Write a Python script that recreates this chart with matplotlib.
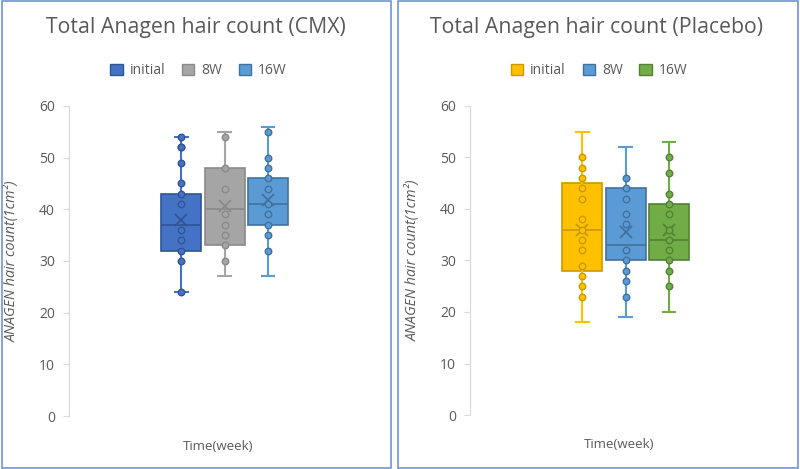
import matplotlib.pyplot as plt
from matplotlib.patches import Rectangle, Patch

groups = ['initial', '8W', '16W']

# box statistics (CMX)
cmx_q1 = [32, 33, 37]
cmx_med = [37, 40, 41]
cmx_q3 = [43, 48, 46]
cmx_mean = [38, 40.6, 41.8]
cmx_lo = [24, 27, 27]
cmx_hi = [54, 55, 56]
cmx_points = [
    [54, 52, 52, 49, 45, 43, 41, 36, 34, 32, 30, 24],
    [54, 48, 44, 39, 37, 35, 33, 30],
    [55, 50, 48, 46, 44, 41, 39, 37, 35, 32],
]

# box statistics (Placebo)
plc_q1 = [28, 30, 30]
plc_med = [36, 33, 34]
plc_q3 = [45, 44, 41]
plc_mean = [36, 35.5, 36]
plc_lo = [18, 19, 20]
plc_hi = [55, 52, 53]
plc_points = [
    [50, 48, 46, 44, 42, 38, 36, 34, 32, 29, 27, 25, 23],
    [46, 44, 42, 39, 37, 32, 30, 28, 26, 23],
    [50, 47, 43, 41, 39, 36, 34, 32, 30, 28, 25],
]

cmx_colors = ['#4472C4', '#A5A5A5', '#5B9BD5']
cmx_edges = ['#2F5597', '#8A8A8A', '#41719C']
plc_colors = ['#FFC000', '#5B9BD5', '#70AD47']
plc_edges = ['#C99A00', '#41719C', '#538135']

text_color = '#595959'
positions = [-1.03, 0, 1.03]


def draw_panel(fig, ax, title, title_x, q1, med, q3, mean, lo, hi, points, colors, edges):
    handles = []
    for i in range(3):
        stats = [dict(med=med[i], q1=q1[i], q3=q3[i], mean=mean[i],
                      whislo=lo[i], whishi=hi[i], fliers=[])]
        ax.bxp(stats, positions=[positions[i]], widths=0.95, patch_artist=True,
               showmeans=True, showfliers=False,
               boxprops=dict(facecolor=colors[i], edgecolor=edges[i], linewidth=1.2),
               medianprops=dict(color=edges[i], linewidth=1.2),
               whiskerprops=dict(color=colors[i], linewidth=1.5),
               capprops=dict(color=colors[i], linewidth=1.5),
               capwidths=0.3,
               meanprops=dict(marker='x', markeredgecolor=edges[i],
                              markersize=9, markeredgewidth=1.3))
        ax.scatter([positions[i]] * len(points[i]), points[i], s=22,
                   facecolor=colors[i], edgecolor=edges[i], linewidth=1, zorder=4)
        handles.append(Patch(facecolor=colors[i], edgecolor=edges[i], label=groups[i]))

    ax.set_xlim(-3.7, 3.7)
    ax.set_ylim(0, 60)
    ax.set_yticks(range(0, 61, 10))
    ax.set_xticks([])
    for side in ['top', 'right', 'bottom']:
        ax.spines[side].set_visible(False)
    ax.spines['left'].set_color('#D9D9D9')
    ax.tick_params(axis='y', colors='#D9D9D9', labelcolor=text_color,
                   labelsize=10, length=4, pad=6)
    ax.set_ylabel('ANAGEN hair count(1cm²)', color=text_color, fontsize=10.3,
                  fontstyle='italic')
    ax.yaxis.set_label_coords(-0.158, 0.5)
    ax.text(0.48, -0.097, 'Time(week)', transform=ax.transAxes, ha='center',
            va='center', color=text_color, fontsize=9.5)
    fig.text(title_x, 0.942, title, ha='center', va='center', color=text_color,
             fontsize=15.3)
    fig.legend(handles=handles, loc='center', bbox_to_anchor=(title_x + 0.003, 0.849),
               ncol=3, frameon=False, fontsize=10, handlelength=0.9, handleheight=0.9,
               columnspacing=1.2, handletextpad=0.5, labelcolor=text_color)


plt.rcParams['font.family'] = ['Open Sans', 'DejaVu Sans']
fig = plt.figure(figsize=(8, 4.69), dpi=100)

ax1 = fig.add_axes([0.08625, 0.113, 0.389, 0.661])
ax2 = fig.add_axes([0.5875, 0.1151, 0.389, 0.659])

draw_panel(fig, ax1, 'Total Anagen hair count (CMX)', 0.245, cmx_q1, cmx_med, cmx_q3,
           cmx_mean, cmx_lo, cmx_hi, cmx_points, cmx_colors, cmx_edges)
draw_panel(fig, ax2, 'Total Anagen hair count (Placebo)', 0.746, plc_q1, plc_med, plc_q3,
           plc_mean, plc_lo, plc_hi, plc_points, plc_colors, plc_edges)

# panel frames
fig.patches.append(Rectangle((0.002, 0.003), 0.487, 0.994, transform=fig.transFigure,
                             fill=False, edgecolor='#6F95D8', linewidth=1.2))
fig.patches.append(Rectangle((0.498, 0.003), 0.499, 0.994, transform=fig.transFigure,
                             fill=False, edgecolor='#6F95D8', linewidth=1.2))

fig.savefig('out.png', dpi=100)
